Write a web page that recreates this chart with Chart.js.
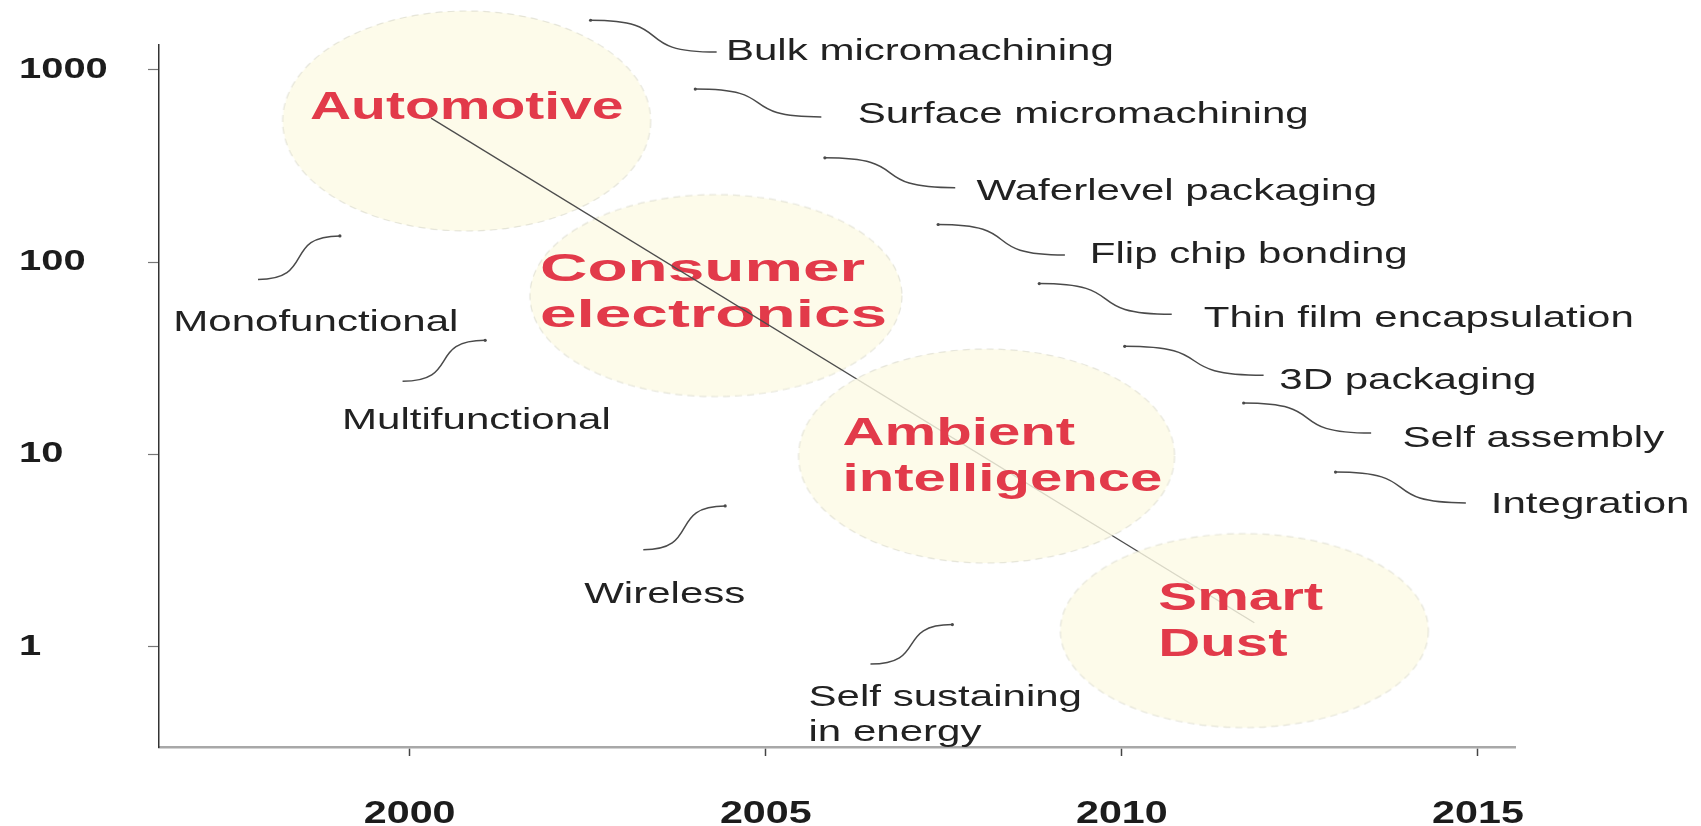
<!DOCTYPE html>
<html>
<head>
<meta charset="utf-8">
<title>MEMS application roadmap</title>
<script src="https://cdn.jsdelivr.net/npm/chart.js@4.4.1/dist/chart.umd.min.js"></script>
<style>
    html, body { margin: 0; padding: 0; background: #ffffff; }
    #chartCanvas { display: block; }
</style>
</head>
<body>
<canvas id="chartCanvas" width="1701" height="826"></canvas>
<script>
// Application areas (the four bubbles)
const areaNames = [["Automotive"], ["Consumer", "electronics"], ["Ambient", "intelligence"], ["Smart", "Dust"]];
const areaYears = [2000.8, 2004.3, 2008.1, 2011.72];
const areaValues = [543, 67, 9.8, 1.21];

// Trend line through the bubbles
const trendYears = [2000.3, 2011.86];
const trendValues = [562, 1.33];

// Notes (technologies on the right, functions on the left)
const noteTexts = [
    "Bulk micromachining", "Surface micromachining", "Waferlevel packaging", "Flip chip bonding",
    "Thin film encapsulation", "3D packaging", "Self assembly", "Integration",
    "Monofunctional", "Multifunctional", "Wireless", "Self sustaining\nin energy"
];
const noteYears = [2004.44, 2006.29, 2007.96, 2009.55, 2011.15, 2012.21, 2013.94, 2015.18, 1996.68, 1999.05, 2002.45, 2005.60];
const noteValues = [1268, 597, 238, 111, 51.6, 24.6, 12.3, 5.59, 49.2, 15.2, 1.91, 0.55];

// Curly leaders of the notes
const leaderFromYears = [2002.54, 2004.01, 2005.83, 2007.42, 2008.84, 2010.04, 2011.71, 2013.00, 1997.87, 1999.90, 2003.28, 2006.47];
const leaderFromValues = [1815, 796, 349, 157, 77.4, 36.5, 18.5, 8.09, 81.2, 24.0, 3.19, 0.81];
const leaderToYears = [2004.31, 2005.78, 2007.66, 2009.20, 2010.70, 2011.99, 2013.50, 2014.83, 1999.02, 2001.06, 2004.43, 2007.62];
const leaderToValues = [1239, 570, 244, 109, 53.5, 25.8, 12.9, 5.59, 137, 39.2, 5.39, 1.30];

// Axis ticks
const xTickValues = [2000, 2005, 2010, 2015];
const xTickLabels = ["2000", "2005", "2010", "2015"];
const yTickValues = [1, 10, 100, 1000];
const yTickLabels = ["1", "10", "100", "1000"];

// Styles
const FONT = "'Liberation Sans', Arial, sans-serif";
const bubbleRx = [184, 186, 188, 184];
const bubbleRy = [110, 101, 107, 97];
const areaOrder = [6, 5, 3, 2];
const areaLabelAlign = ["center", "left", "left", "left"];
const areaLabelDx = [0, -176, -144, -86];
const areaLabelDy = [-16, -29, -25, -35];
const areaLabelStretch = [1.50, 1.73, 1.53, 1.53];

function makeBubble(rx, ry) {
    const c = document.createElement("canvas");
    c.width = Math.ceil(rx * 2 + 4);
    c.height = Math.ceil(ry * 2 + 4);
    const ctx = c.getContext("2d");
    ctx.beginPath();
    ctx.ellipse(c.width / 2, c.height / 2, rx, ry, 0, 0, Math.PI * 2);
    ctx.fillStyle = "rgba(252, 250, 229, 0.8)";
    ctx.fill();
    ctx.setLineDash([7, 5]);
    ctx.strokeStyle = "rgba(205, 205, 190, 0.5)";
    ctx.lineWidth = 1.2;
    ctx.stroke();
    return c;
}

// Text stretched sideways like the scanned figure
function drawStretched(ctx, text, x, y, align, stretch) {
    const width = ctx.measureText(text).width * stretch;
    const left = align === "center" ? x - width / 2 : x;
    ctx.save();
    ctx.translate(left, y);
    ctx.scale(stretch, 1);
    ctx.textAlign = "left";
    ctx.fillText(text, 0, 0);
    ctx.restore();
}

function drawAreaLabel(chart, index, meta) {
    const pt = meta.data[0];
    const ctx = chart.ctx;
    ctx.save();
    ctx.font = "bold 38px " + FONT;
    ctx.fillStyle = "#e23a4a";
    ctx.textBaseline = "alphabetic";
    areaNames[index].forEach((line, j) => {
        drawStretched(ctx, line, pt.x + areaLabelDx[index], pt.y + areaLabelDy[index] + j * 46 + 14,
            areaLabelAlign[index], areaLabelStretch[index]);
    });
    ctx.restore();
}

function drawAxisLabels(chart) {
    const ctx = chart.ctx;
    const xScale = chart.scales.x;
    const yScale = chart.scales.y;
    ctx.save();
    ctx.fillStyle = "#1c1c1c";
    ctx.textBaseline = "alphabetic";
    ctx.font = "bold 30px " + FONT;
    yTickValues.forEach((v, i) => {
        drawStretched(ctx, yTickLabels[i], 19, yScale.getPixelForValue(v) - 3 + 11, "left", 1.33);
    });
    ctx.font = "bold 31px " + FONT;
    xTickValues.forEach((v, i) => {
        drawStretched(ctx, xTickLabels[i], xScale.getPixelForValue(v), 812 + 11, "center", 1.33);
    });
    ctx.restore();
}

function drawNotes(chart) {
    const ctx = chart.ctx;
    const xScale = chart.scales.x;
    const yScale = chart.scales.y;
    ctx.save();

    // Curly leaders
    ctx.strokeStyle = "#4a4a4a";
    ctx.fillStyle = "#4a4a4a";
    ctx.lineWidth = 1.5;
    for (let i = 0; i < noteTexts.length; i++) {
        const x0 = xScale.getPixelForValue(leaderFromYears[i]);
        const y0 = yScale.getPixelForValue(leaderFromValues[i]);
        const x1 = xScale.getPixelForValue(leaderToYears[i]);
        const y1 = yScale.getPixelForValue(leaderToValues[i]);
        const k = 0.7 * (x1 - x0);
        ctx.beginPath();
        ctx.moveTo(x0, y0);
        ctx.bezierCurveTo(x0 + k, y0, x1 - k, y1, x1, y1);
        ctx.stroke();
        ctx.beginPath();
        ctx.arc(y0 < y1 ? x0 : x1, Math.min(y0, y1), 1.6, 0, Math.PI * 2);
        ctx.fill();
    }

    // Note texts
    ctx.font = "29px " + FONT;
    ctx.fillStyle = "#222222";
    ctx.textBaseline = "alphabetic";
    for (let i = 0; i < noteTexts.length; i++) {
        const x = xScale.getPixelForValue(noteYears[i]);
        const y = yScale.getPixelForValue(noteValues[i]);
        noteTexts[i].split("\n").forEach((line, j) => {
            drawStretched(ctx, line, x, y + 10 + j * 35, "left", 1.45);
        });
    }
    ctx.restore();
}

const annotationPlugin = {
    id: "roadmapAnnotations",
    afterDatasetDraw(chart, args) {
        if (args.index < areaNames.length) {
            drawAreaLabel(chart, args.index, args.meta);
        }
    },
    afterDraw(chart) {
        drawAxisLabels(chart);
        drawNotes(chart);
    }
};

function loadRoadmapChart() {
    const chartCanvas = document.getElementById("chartCanvas");

    const datasets = areaNames.map((name, i) => ({
        type: "scatter",
        label: name.join(" "),
        data: [{ x: areaYears[i], y: areaValues[i] }],
        pointStyle: makeBubble(bubbleRx[i], bubbleRy[i]),
        pointRadius: 10,
        pointHoverRadius: 10,
        clip: false,
        order: areaOrder[i]
    }));

    datasets.push({
        type: "line",
        label: "Trend",
        data: trendYears.map((x, i) => ({ x: x, y: trendValues[i] })),
        borderColor: "#4d4d4d",
        borderWidth: 1.3,
        pointRadius: 0,
        fill: false,
        clip: false,
        order: 4
    });

    new Chart(chartCanvas, {
        type: "scatter",
        data: { datasets: datasets },
        options: {
            responsive: false,
            animation: false,
            devicePixelRatio: 1,
            layout: { padding: { left: 148, right: 186, top: 45, bottom: 70 } },
            plugins: {
                legend: { display: false },
                tooltip: { enabled: false }
            },
            scales: {
                x: {
                    type: "linear",
                    min: 1996.48,
                    max: 2015.52,
                    afterBuildTicks: (scale) => { scale.ticks = xTickValues.map(v => ({ value: v })); },
                    ticks: { display: false },
                    grid: { drawOnChartArea: false, drawTicks: true, tickLength: 9, tickColor: "#444444", tickWidth: 1.5 },
                    border: { display: true, color: "#a8a8a8", width: 2.5 }
                },
                y: {
                    type: "logarithmic",
                    min: 0.306,
                    max: 1349,
                    afterBuildTicks: (scale) => { scale.ticks = yTickValues.map(v => ({ value: v })); },
                    ticks: { display: false },
                    grid: { drawOnChartArea: false, drawTicks: true, tickLength: 11, tickColor: "#777777", tickWidth: 1.2 },
                    border: { display: true, color: "#333333", width: 1.5 }
                }
            }
        },
        plugins: [annotationPlugin]
    });
}

loadRoadmapChart();
</script>
</body>
</html>
